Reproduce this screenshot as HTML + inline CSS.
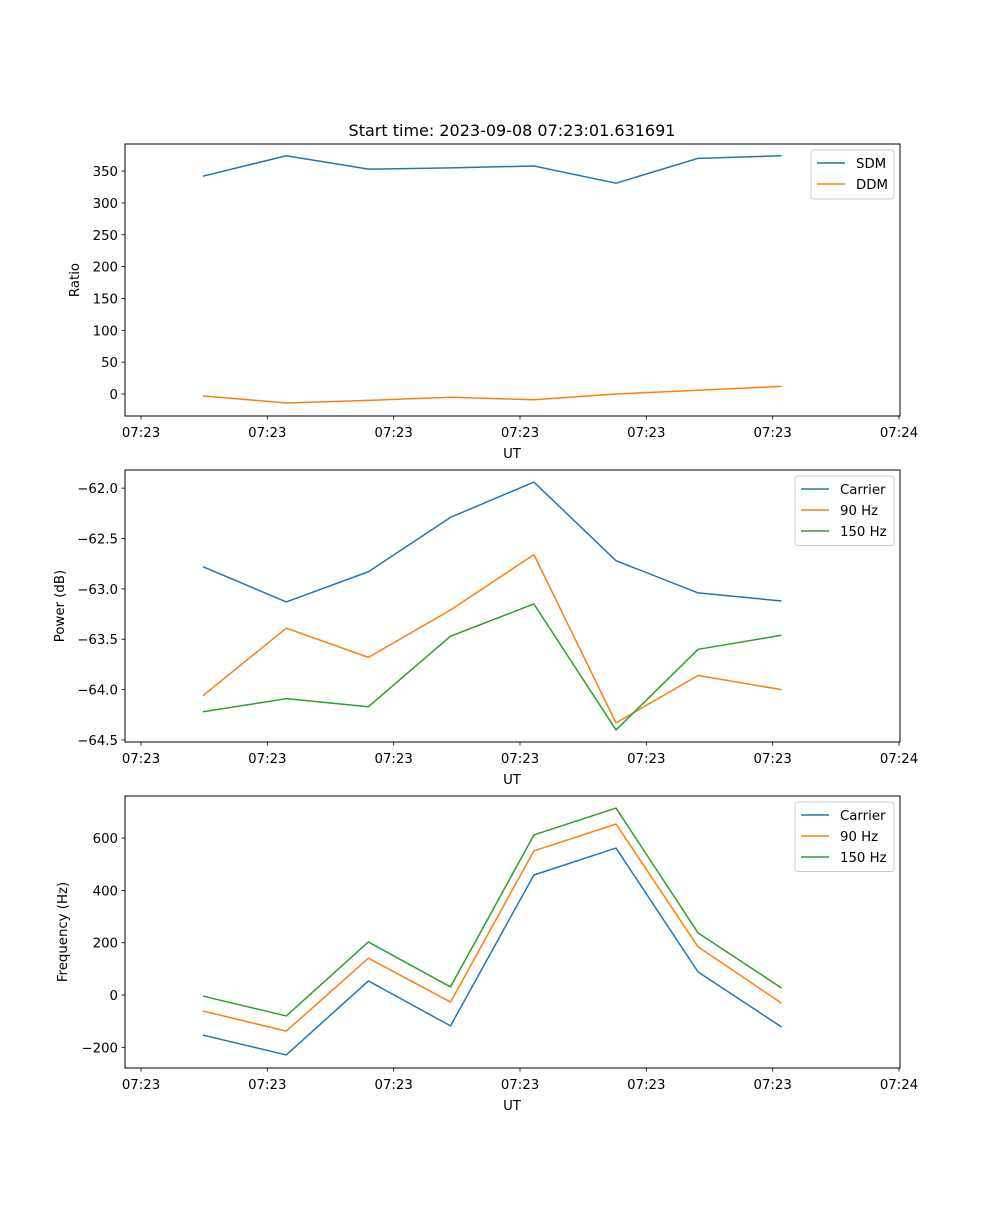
<!DOCTYPE html>
<html><head><meta charset="utf-8"><style>
html,body{margin:0;padding:0;background:#fff;}
svg text{font-family:"DejaVu Sans","Liberation Sans",sans-serif;}
</style></head><body>
<svg id="fig" width="1000" height="1200" xmlns="http://www.w3.org/2000/svg">
<rect width="1000" height="1200" fill="#fff"/>
<text x="512" y="136" font-size="16" text-anchor="middle">Start time: 2023-09-08 07:23:01.631691</text>
</svg>
<script>
const times = [4.9, 11.5, 18.0, 24.5, 31.1, 37.6, 44.1, 50.7];
const xTickVals = [0, 10, 20, 30, 40, 50, 60];
const xTickLabels = ["07:23","07:23","07:23","07:23","07:23","07:23","07:24"];
const sdm = [342, 374, 353, 355, 358, 331, 370, 374];
const ddm = [-3, -14, -10, -5, -9, 0, 6, 12];
const ratioTicks = [0, 50, 100, 150, 200, 250, 300, 350];
const pCarrier = [-62.78, -63.13, -62.83, -62.29, -61.94, -62.72, -63.04, -63.12];
const p90 = [-64.06, -63.39, -63.68, -63.21, -62.66, -64.33, -63.86, -64.0];
const p150 = [-64.22, -64.09, -64.17, -63.47, -63.15, -64.40, -63.60, -63.46];
const powerTicks = [-64.5, -64.0, -63.5, -63.0, -62.5, -62.0];
const fCarrier = [-153, -229, 54, -118, 459, 562, 88, -122];
const f90 = [-61, -138, 141, -27, 551, 654, 184, -31];
const f150 = [-4, -80, 203, 31, 612, 715, 237, 27];
const freqTicks = [-200, 0, 200, 400, 600];

const NS = "http://www.w3.org/2000/svg";
const svg = document.getElementById('fig');
const C = ['#1f77b4', '#ff7f0e', '#2ca02c'];
function mk(tag, attrs, parent) {
  const e = document.createElementNS(NS, tag);
  for (const k in attrs) e.setAttribute(k, attrs[k]);
  (parent || svg).appendChild(e); return e;
}
const L = 125, R = 900;
const FS = 13.3;
const xs = t => 141 + (t - 0) * (899 - 141) / 60;

function panel(name, top, bot, ymin, ymax, yticks, fmt, ylabel, series, names, legW) {
  const g = mk('g', {});
  
  
  const ys = v => bot - (v - ymin) * (bot - top) / (ymax - ymin);
  series.forEach((s, i) => {
    const p = mk('polyline', {points: s.map((v, j) => xs(times[j]) + ',' + ys(v)).join(' '), fill: 'none', stroke: C[i], 'stroke-width': 1.5, 'stroke-linejoin': 'round'}, g);
    
    
  });
  const fr = mk('rect', {x: L, y: top, width: R - L, height: bot - top, fill: 'none', stroke: '#000', 'stroke-width': 1}, g);
  
  
  xTickVals.forEach((v, i) => {
    const x = xs(v);
    mk('line', {x1: x, x2: x, y1: bot, y2: bot + 3.5, stroke: '#000', 'stroke-width': 0.8}, g);
    const t = mk('text', {x: x, y: bot + 21, 'font-size': FS, 'text-anchor': 'middle'}, g);
    
    
    t.textContent = xTickLabels[i];
  });
  const xl = mk('text', {x: 512, y: bot + 42, 'font-size': FS, 'text-anchor': 'middle'}, g);
  
  
  xl.textContent = 'UT';
  yticks.forEach(v => {
    const y = ys(v);
    mk('line', {x1: L - 3.5, x2: L, y1: y, y2: y, stroke: '#000', 'stroke-width': 0.8}, g);
    const t = mk('text', {x: L - 7, y: y + 5, 'font-size': FS, 'text-anchor': 'end'}, g);
    
    
    t.textContent = fmt(v);
  });
  const cy = (top + bot) / 2;
  const yl = mk('text', {x: ylabel[1], y: cy, 'font-size': FS, 'text-anchor': 'middle', transform: 'rotate(-90 ' + ylabel[1] + ' ' + cy + ')'}, g);
  
  
  yl.textContent = ylabel[0];
  const lx = R - 6 - legW, ly = top + 6, lh = 8 + names.length * 20.5;
  const lg = mk('g', {}, g);
  
  
  mk('rect', {x: lx, y: ly, width: legW, height: lh, rx: 3, fill: '#fff', 'fill-opacity': 0.8, stroke: '#ccc', 'stroke-width': 1}, lg);
  names.forEach((n, i) => {
    const yy = ly + 13 + i * 21;
    const e = mk('g', {}, lg);
    
    
    mk('line', {x1: lx + 6, x2: lx + 34, y1: yy, y2: yy, stroke: C[i], 'stroke-width': 1.5}, e);
    const t = mk('text', {x: lx + 45, y: yy + 5, 'font-size': FS}, e);
    t.textContent = n;
  });
}
panel('ratio-panel', 144, 416, -34.5, 392.5, ratioTicks, v => String(v), ['Ratio', 79], [sdm, ddm], ['SDM', 'DDM'], 83);
panel('power-panel', 470, 742, -64.52, -61.82, powerTicks, v => '\u2212' + Math.abs(v).toFixed(1), ['Power (dB)', 64], [pCarrier, p90, p150], ['Carrier', '90 Hz', '150 Hz'], 99);
panel('frequency-panel', 796, 1068, -279, 761, freqTicks, v => v < 0 ? '\u2212' + Math.abs(v) : String(v), ['Frequency (Hz)', 67], [fCarrier, f90, f150], ['Carrier', '90 Hz', '150 Hz'], 99);
</script>
</body></html>
